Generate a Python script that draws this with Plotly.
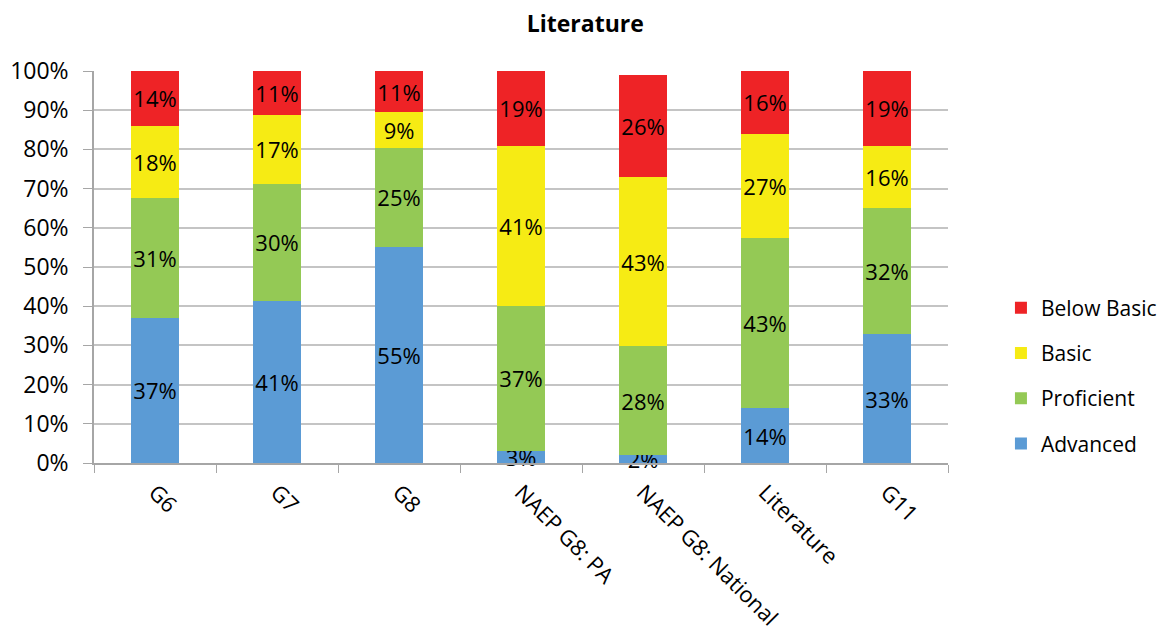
import plotly.graph_objects as go

categories = ["G6", "G7", "G8", "NAEP G8: PA", "NAEP G8: National", "Literature", "G11"]
advanced = [37.0, 41.4, 55.1, 3.1, 2.0, 14.0, 32.9]
proficient = [30.6, 29.9, 25.3, 37.0, 27.8, 43.4, 32.1]
basic = [18.4, 17.4, 9.1, 40.8, 43.1, 26.6, 15.9]
below_basic = [14.0, 11.3, 10.5, 19.1, 26.1, 16.0, 19.1]

SERIES = [
    ("Advanced", advanced, "#5B9BD5", 4),
    ("Proficient", proficient, "#94C955", 3),
    ("Basic", basic, "#F6EB14", 2),
    ("Below Basic", below_basic, "#EE2326", 1),
]
FONT = "Open Sans, Noto Sans, sans-serif"

fig = go.Figure()
for name, values, color, rank in SERIES:
    fig.add_trace(
        go.Bar(
            x=categories,
            y=values,
            name=name,
            legendgroup=name,
            legendrank=rank,
            marker=dict(color=color, line=dict(width=0)),
            texttemplate="%{y:.0f}%",
            textposition="inside",
            insidetextanchor="middle",
            textangle=0,
            constraintext="none",
            cliponaxis=False,
            textfont=dict(family=FONT, size=22, color="black"),
        )
    )

# the page puts the figure 8px in from the top-left corner
fig.update_layout(
    barmode="stack",
    bargap=0.6,
    width=1171,
    height=631,
    margin=dict(l=86, r=231, t=63, b=176, autoexpand=False),
    paper_bgcolor="white",
    plot_bgcolor="white",
    font=dict(family=FONT, size=21, color="black"),
    title=dict(
        text="<b>Literature</b>",
        x=0.493,
        xanchor="center",
        y=0.974,
        yanchor="middle",
        font=dict(family=FONT, size=23, color="black"),
    ),
    legend=dict(
        traceorder="grouped",
        tracegroupgap=15,
        x=1.062,
        xanchor="left",
        y=0.222,
        yanchor="middle",
        font=dict(family=FONT, size=21, color="black"),
    ),
    uniformtext=dict(mode="show", minsize=22),
)
fig.update_xaxes(
    type="category",
    automargin=False,
    tickangle=45,
    showline=True,
    linecolor="#A6A6A6",
    linewidth=1.5,
    ticks="outside",
    tickson="boundaries",
    ticklen=8,
    tickcolor="#A6A6A6",
    ticklabelstandoff=6,
    tickfont=dict(family=FONT, size=22, color="black"),
)
fig.update_yaxes(
    automargin=False,
    range=[0, 100],
    dtick=10,
    ticksuffix="%",
    showgrid=True,
    gridcolor="#C4C4C4",
    gridwidth=1.5,
    showline=True,
    linecolor="#A6A6A6",
    linewidth=1.5,
    ticks="outside",
    ticklen=9,
    tickcolor="#A6A6A6",
    ticklabelstandoff=10,
    tickfont=dict(family=FONT, size=23, color="black"),
    zeroline=False,
)

fig.write_html("out.html")
